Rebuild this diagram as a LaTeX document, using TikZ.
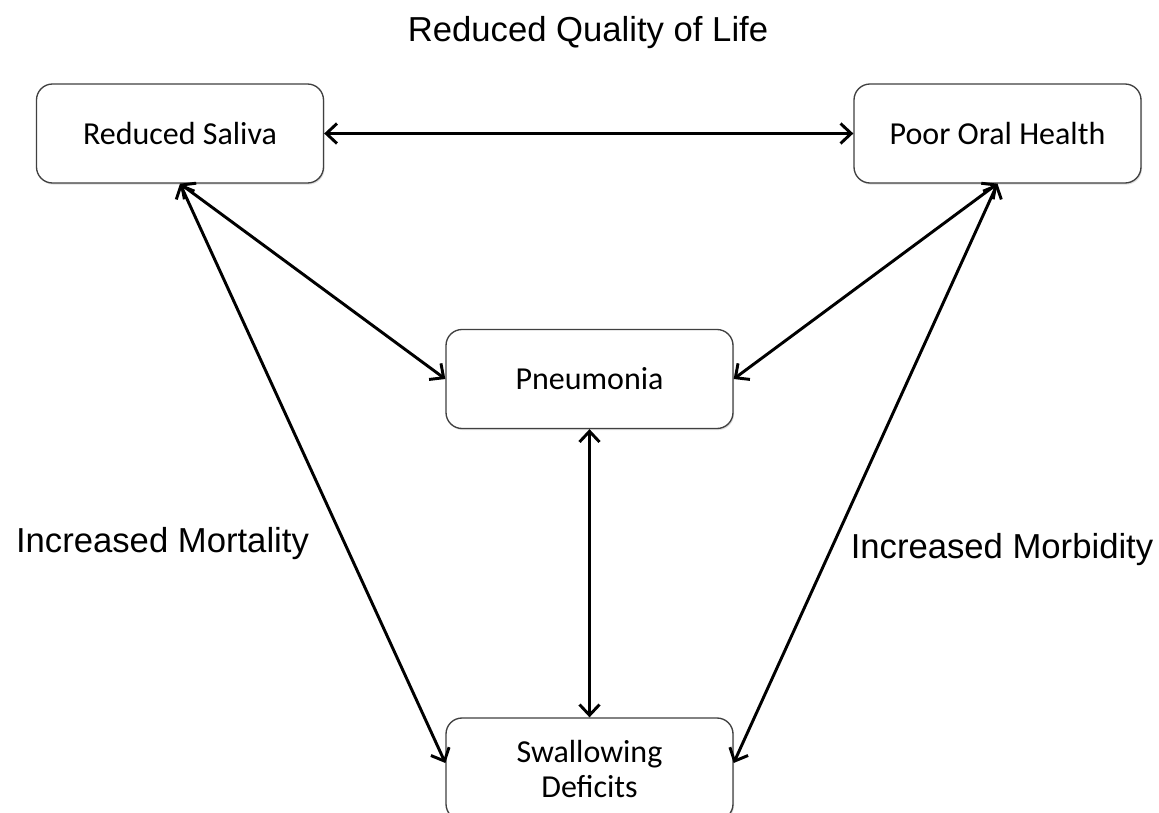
\documentclass[tikz,border=0pt]{standalone}
\usepackage{fontspec}
\setmainfont{Liberation Sans}
\newfontfamily\boxfont{Carlito}
\usetikzlibrary{arrows.meta,shadows}

\tikzset{
  stagebox/.style={
    draw=black!75, line width=1pt, fill=white, rounded corners=12pt,
    minimum width=215.25pt, minimum height=74.25pt, align=center,
    font=\boxfont\fontsize{24}{27}\selectfont,
    drop shadow={opacity=0.25, shadow xshift=0.8pt, shadow yshift=-1.2pt}
  },
  link/.style={line width=2.2pt, {Straight Barb[length=8pt,width=15pt]}-{Straight Barb[length=8pt,width=15pt]}},
  outcome/.style={anchor=base, inner sep=0pt, font=\fontsize{26}{30}\selectfont}
}

\begin{document}
\begin{tikzpicture}[x=0.75pt, y=-0.75pt]
  \useasboundingbox (0,0) rectangle (1159,813);
  \fill[white] (0,0) rectangle (1159,813);
  \clip (0,0) rectangle (1159,813);

  % outcome labels
  \node[outcome] (qol) at (588,42) {Reduced Quality of Life};
  \node[outcome] (mort) at (162.5,552) {Increased Mortality};
  \node[outcome] (morb) at (1002,558) {Increased Morbidity};

  % boxes
  \node[stagebox] (sal) at (180,133.5) {Reduced Saliva};
  \node[stagebox] (poh) at (997.5,133.5) {Poor Oral Health};
  \node[stagebox] (pn)  at (589.5,379) {Pneumonia};
  \node[stagebox, minimum height=76.5pt] (sw) at (589.5,769) {Swallowing\\[-1pt]Deficits};

  % two-way links
  \draw[link] (sal.east) -- (poh.west);
  \draw[link] (sal.south) -- (pn.west);
  \draw[link] (poh.south) -- (pn.east);
  \draw[link] (sal.south) -- ([yshift=4.5pt]sw.west);
  \draw[link] (poh.south) -- ([yshift=4.5pt]sw.east);
  \draw[link] (pn.south) -- (sw.north);
\end{tikzpicture}
\end{document}
